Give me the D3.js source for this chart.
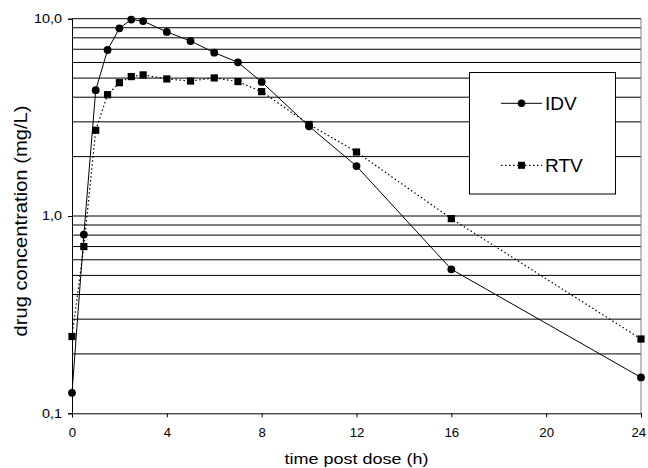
<!DOCTYPE html>
<html><head><meta charset="utf-8">
<script src="https://cdn.jsdelivr.net/npm/d3@7"></script>
<style>body{margin:0;background:#fff}svg{display:block}text{font-family:"Liberation Sans",Arial,sans-serif}</style>
</head><body>
<svg id="c" width="648" height="468"></svg>
<script>
const times = [0,0.5,1,1.5,2,2.5,3,4,5,6,7,8,10,12,16,24];
const idv = [0.127,0.805,4.34,6.94,8.94,9.9,9.73,8.57,7.71,6.73,6.01,4.78,2.85,1.79,0.537,0.152];
const rtv = [0.245,0.70,2.72,4.12,4.74,5.09,5.19,4.95,4.83,5.01,4.80,4.27,2.91,2.11,0.97,0.238];
const xTicks = [0,4,8,12,16,20,24];
const yTicks = [0.1,1,10];
const yTickLabels = ["0,1","1,0","10,0"];
const seriesNames = ["IDV","RTV"];

const svg = d3.select("#c");
const x = d3.scaleLinear().domain([0,24]).range([72,641]);
const y = d3.scaleLog().domain([0.1,10]).range([413.3,18.7]);
const SX = 1.2;

// gridlines
const grid = [];
[0.1,1].forEach(d=>{for(let k=1;k<=9;k++){const v=d*k; if(v>0.1) grid.push(v);} });
grid.push(10);
svg.append("g").selectAll("line").data(grid).join("line")
  .attr("x1",x(0)).attr("x2",x(24))
  .attr("y1",d=>y(d)).attr("y2",d=>y(d))
  .attr("stroke","#000").attr("stroke-width",1);

// right border
svg.append("line").attr("x1",x(24)).attr("x2",x(24)).attr("y1",y(10)).attr("y2",y(0.1))
  .attr("stroke","#808080").attr("stroke-width",1);

// axes
const xAxis = d3.axisBottom(x).tickValues(xTicks).tickSize(4).tickPadding(11.5).tickFormat(d3.format("d"));
const gx = svg.append("g").attr("transform",`translate(0,${y(0.1)})`).call(xAxis);
gx.select(".domain").attr("stroke","#000");
gx.selectAll("text").attr("font-size",12).attr("fill","#000")
  .attr("font-family","Liberation Sans, Arial, sans-serif").attr("transform",`scale(1.1,1)`)
  .attr("x",d=>d===24?-2.5:0);

const yAxis = d3.axisLeft(y).tickValues(yTicks).tickSize(4).tickPadding(6)
  .tickFormat((d,i)=>yTickLabels[i]);
const gy = svg.append("g").attr("transform",`translate(${x(0)},0)`).call(yAxis);
gy.select(".domain").attr("stroke","#000");
gy.selectAll("text").attr("font-size",12).attr("fill","#000")
  .attr("font-family","Liberation Sans, Arial, sans-serif")
  .attr("x",-10/SX).attr("transform",`scale(${SX},1)`);

// titles
const xt = (x(0)+x(24))/2;
svg.append("text").attr("transform",`translate(${xt},464) scale(1.24,1)`).attr("text-anchor","middle")
  .attr("font-size",14.5).text("time post dose (h)");
svg.append("text").attr("transform",`translate(27,221) rotate(-90) scale(1.12,1)`)
  .attr("text-anchor","middle").attr("font-size",18).text("drug concentration (mg/L)");

// lines
const line = d3.line().x((d,i)=>x(times[i])).y(d=>y(d));
svg.append("path").datum(idv).attr("d",line).attr("fill","none").attr("stroke","#000").attr("stroke-width",1);
svg.append("path").datum(rtv).attr("d",line).attr("fill","none").attr("stroke","#000").attr("stroke-width",1.2).attr("stroke-dasharray","1.5,2.5");

// markers
svg.append("g").selectAll("circle").data(idv).join("circle")
  .attr("cx",(d,i)=>x(times[i])).attr("cy",d=>y(d)).attr("r",3.9).attr("fill","#000");
svg.append("g").selectAll("rect").data(rtv).join("rect")
  .attr("x",(d,i)=>x(times[i])-3.6).attr("y",d=>y(d)-3.6).attr("width",7.2).attr("height",7.2).attr("fill","#000");

// legend
const lg = svg.append("g");
lg.append("rect").attr("x",469.5).attr("y",72.5).attr("width",146).attr("height",121.5)
  .attr("fill","#fff").attr("stroke","#000").attr("stroke-width",1);
const ly = [103.3,165.3];
lg.append("line").attr("x1",501).attr("x2",542).attr("y1",ly[0]).attr("y2",ly[0]).attr("stroke","#000");
lg.append("circle").attr("cx",521.5).attr("cy",ly[0]).attr("r",3.8).attr("fill","#000");
lg.append("line").attr("x1",501).attr("x2",542).attr("y1",ly[1]).attr("y2",ly[1]).attr("stroke","#000").attr("stroke-width",1.2).attr("stroke-dasharray","1.5,2.5");
lg.append("rect").attr("x",521.5-3.5).attr("y",ly[1]-3.5).attr("width",7).attr("height",7).attr("fill","#000");
seriesNames.forEach((n,i)=>{
  lg.append("text").attr("x",545).attr("y",ly[i]+7).attr("font-size",19).text(n);
});
</script>
</body></html>
